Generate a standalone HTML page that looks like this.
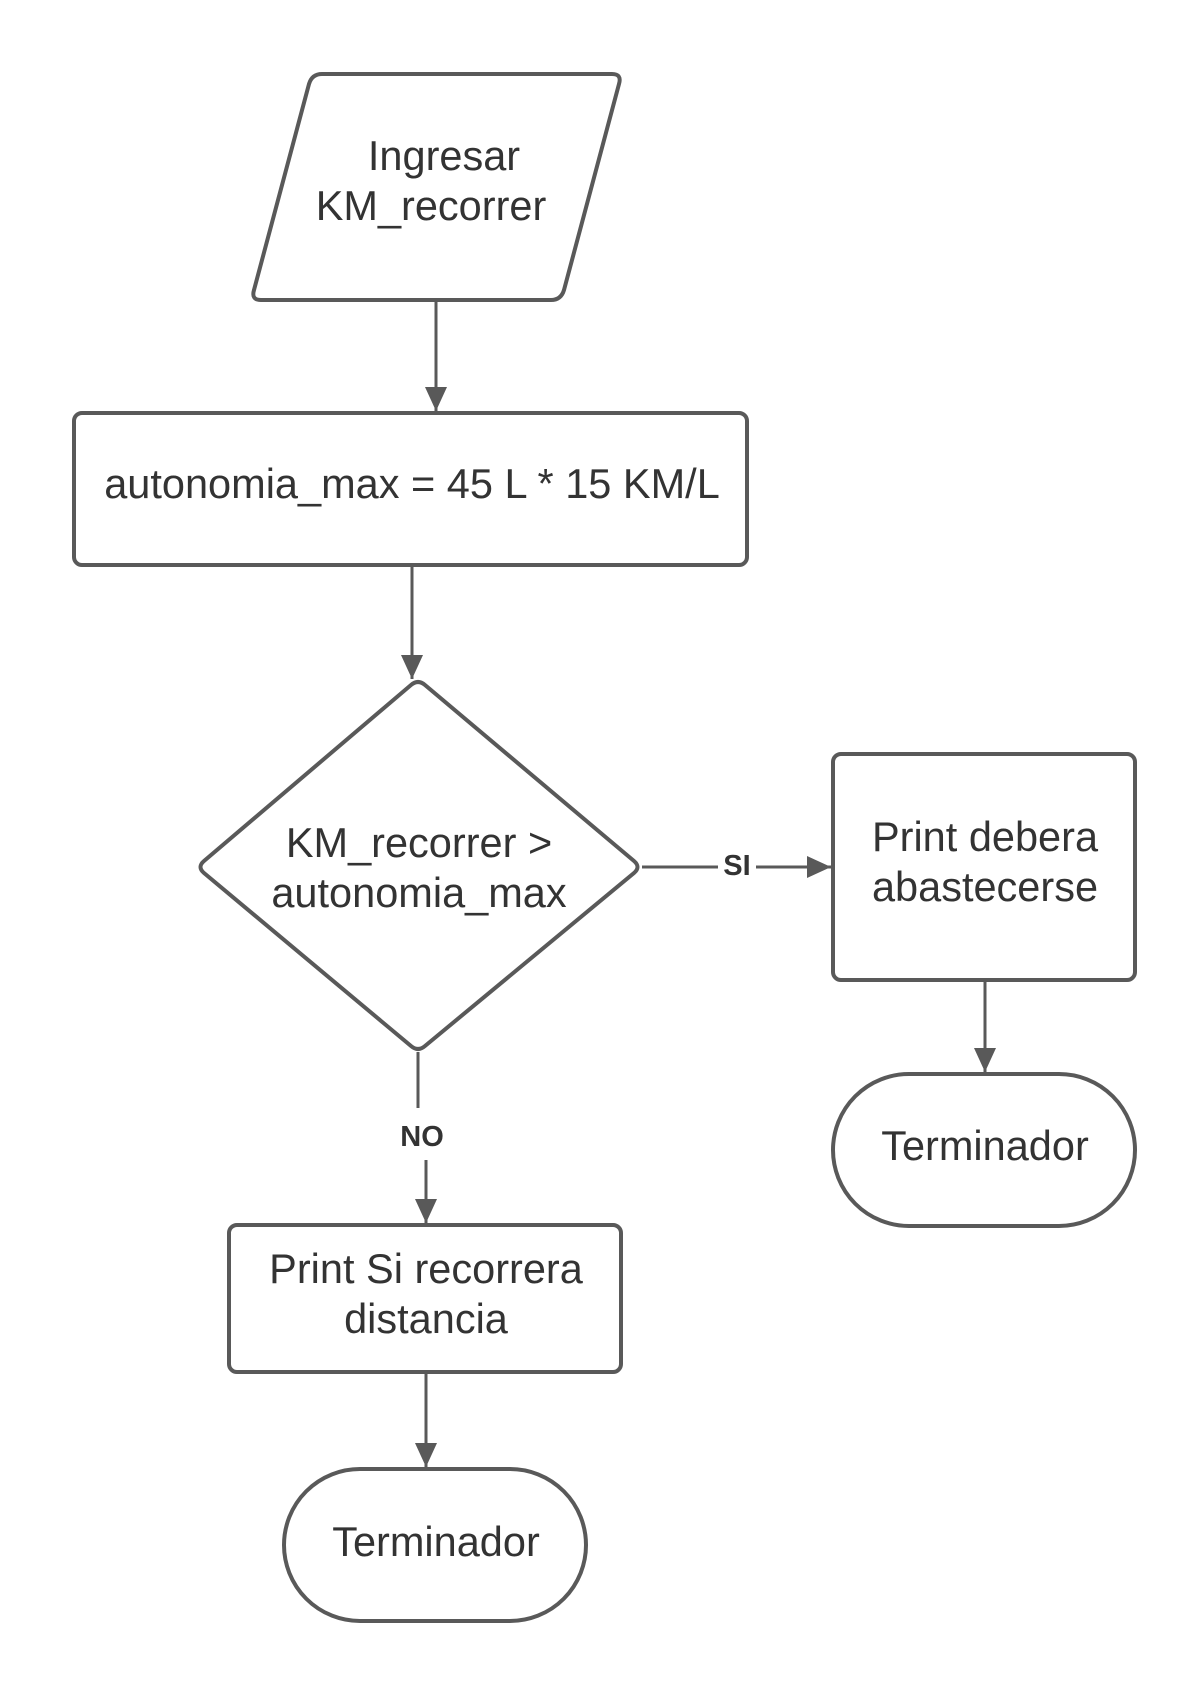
<!DOCTYPE html>
<html><head><meta charset="utf-8"><style>html,body{margin:0;padding:0;background:#fff}</style></head>
<body>
<svg width="1204" height="1688" viewBox="0 0 1204 1688" xmlns="http://www.w3.org/2000/svg">
<defs>
<marker id="b" viewBox="0 0 24 24" refX="24" refY="12" markerWidth="24" markerHeight="24" orient="auto" markerUnits="userSpaceOnUse"><path d="M0,1 L24,12 L0,23 z" fill="#595959"/></marker></defs>
<g fill="none" stroke="#595959" stroke-width="4" stroke-linejoin="round">
<path d="M322,74 L612,74 Q622,74 619,84 L564,290 Q561,300 551,300 L261,300 Q251,300 254,290 L309,84 Q312,74 322,74 Z"/>
<rect x="74" y="413" width="673" height="152" rx="8"/>
<path d="M411,685 Q418,679 425,685 L634,861 Q641,867 634,873 L425,1046 Q418,1052 411,1046 L204,873 Q197,867 204,861 Z"/>
<rect x="833" y="754" width="302" height="226" rx="8"/>
<rect x="833" y="1074" width="302" height="152" rx="76"/>
<rect x="229" y="1225" width="392" height="147" rx="8"/>
<rect x="284" y="1469" width="302" height="152" rx="76"/>
<g stroke-width="3">
<line x1="436" y1="300" x2="436" y2="411" marker-end="url(#b)"/>
<line x1="412" y1="565" x2="412" y2="679" marker-end="url(#b)"/>
<line x1="642" y1="867" x2="718" y2="867"/>
<line x1="756" y1="867" x2="831" y2="867" marker-end="url(#b)"/>
<line x1="418" y1="1052" x2="418" y2="1108"/>
<line x1="426" y1="1160" x2="426" y2="1223" marker-end="url(#b)"/>
<line x1="985" y1="980" x2="985" y2="1072" marker-end="url(#b)"/>
<line x1="426" y1="1372" x2="426" y2="1467" marker-end="url(#b)"/>
</g></g>
<g font-family="Liberation Sans, sans-serif" font-size="41.5" fill="#333" text-anchor="middle">
<text x="444" y="170">Ingresar</text>
<text x="431" y="220">KM_recorrer</text>
<text x="412" y="498">autonomia_max = 45 L * 15 KM/L</text>
<text x="419" y="857">KM_recorrer &gt;</text>
<text x="419" y="907">autonomia_max</text>
<text x="985" y="851">Print debera</text>
<text x="985" y="901">abastecerse</text>
<text x="985" y="1160">Terminador</text>
<text x="426" y="1283">Print Si recorrera</text>
<text x="426" y="1333">distancia</text>
<text x="436" y="1556">Terminador</text>
<text x="737" y="875" font-size="29" font-weight="bold">SI</text>
<text x="422" y="1146" font-size="29" font-weight="bold">NO</text>
</g>
</svg>
</body></html>
